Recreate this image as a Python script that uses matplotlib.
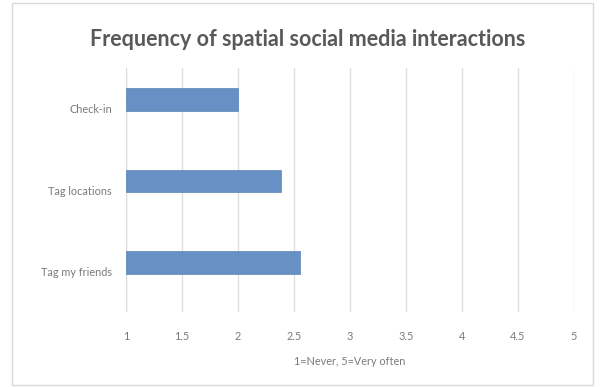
import matplotlib
matplotlib.use("Agg")
import matplotlib.pyplot as plt
from matplotlib.patches import Rectangle

categories = ["Check-in", "Tag locations", "Tag my friends"]
values = [2.0, 2.38, 2.55]
x_ticks = [1, 1.5, 2, 2.5, 3, 3.5, 4, 4.5, 5]
x_tick_labels = ["1", "1.5", "2", "2.5", "3", "3.5", "4", "4.5", "5"]

title = "Frequency of spatial social media interactions"
x_label = "1=Never, 5=Very often"

plt.rcParams["font.family"] = ["Lato", "DejaVu Sans"]

fig = plt.figure(figsize=(6.0, 3.87), dpi=100)
fig.patch.set_facecolor("white")
fig.patches.append(Rectangle((0.02, 0.005), 0.968, 0.987, transform=fig.transFigure,
                             fill=False, edgecolor="#d9d9d9", linewidth=1.0))

ax = fig.add_axes([0.21, 0.194, 0.7467, 0.63])
ypos = list(range(len(categories)))
bar_pos = [p - 0.11 for p in ypos]
ax.barh(bar_pos, [v - 1 for v in values], left=1, height=0.28,
        color="#6790c4", edgecolor="#5b84ba", linewidth=0.5, zorder=3)

ax.set_xlim(1, 5)
ax.set_ylim(len(categories) - 0.5, -0.5)
ax.set_xticks(x_ticks)
ax.set_xticklabels(x_tick_labels)
ax.set_yticks(ypos)
ax.set_yticklabels(categories)
ax.tick_params(axis="both", length=0, labelsize=7.8, labelcolor="#7a7a7a")
ax.tick_params(axis="x", pad=14)
ax.tick_params(axis="y", pad=10)
ax.grid(axis="x", color="#dcdcdc", linewidth=0.9, zorder=0)
for s in ax.spines.values():
    s.set_visible(False)
ax.axvline(1, color="#d0d0d0", linewidth=0.9, zorder=1)

ax.set_xlabel(x_label, fontsize=7.8, color="#7a7a7a", labelpad=10)
fig.text(0.513, 0.897, title, ha="center", va="center", fontsize=15.5,
         fontweight="bold", color="#595959")

fig.savefig("out.png", dpi=100, facecolor="white")
